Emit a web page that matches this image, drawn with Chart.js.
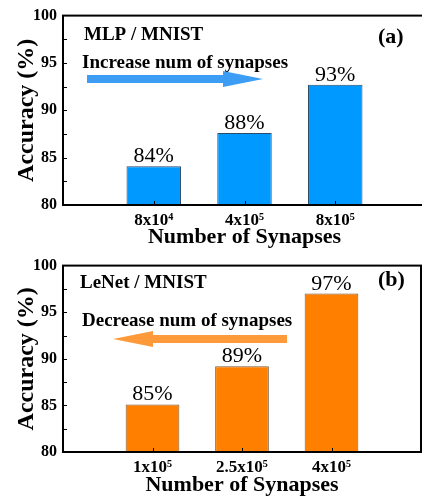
<!DOCTYPE html>
<html>
<head>
<meta charset="utf-8">
<script src="https://cdn.jsdelivr.net/npm/chart.js@4.4.1/dist/chart.umd.min.js"></script>
<style>
  html, body { margin: 0; padding: 0; background: #fff; overflow: hidden; width: 422px; height: 498px; }
  canvas { position: absolute; left: 0; }
  #panelA { top: 0; }
  #panelB { top: 250px; }
</style>
</head>
<body>
<canvas id="panelA" width="431" height="250"></canvas>
<canvas id="panelB" width="426" height="248"></canvas>
<script>
// Accuracy vs. number of synapses for two networks
const categoriesA = ['8x10\u2074', '4x10\u2075', '8x10\u2075'];
const accuracyA = [84.1, 87.6, 92.7];
const categoriesB = ['1x10\u2075', '2.5x10\u2075', '4x10\u2075'];
const accuracyB = [85.1, 89.2, 97.0];
const yTicks = [80, 85, 90, 95, 100];

const SERIF = '"Liberation Serif", "Times New Roman", serif';

// Frame, inner tick marks, value labels, panel captions and direction arrows
const panelDecor = {
  id: 'panelDecor',
  afterDatasetsDraw(chart, args, opts) {
    const { ctx, chartArea: a, scales: { x, y } } = chart;
    ctx.save();

    // frame
    ctx.strokeStyle = '#000';
    ctx.lineWidth = 2;
    ctx.strokeRect(a.left, a.top, a.right - a.left, a.bottom - a.top);

    // inner minor ticks on the y axis
    ctx.lineWidth = 1;
    ctx.beginPath();
    const step = (yTicks[1] - yTicks[0]) / 2;
    for (let v = y.min + step; v < y.max; v += step) {
      const py = Math.round(y.getPixelForValue(v)) + 0.5;
      ctx.moveTo(a.left + 1, py);
      ctx.lineTo(a.left + 4, py);
    }
    // inner ticks on the x axis at each bar
    const meta = chart.getDatasetMeta(0);
    meta.data.forEach((bar, i) => {
      if (chart.data.datasets[0].data[i] == null) return;
      const px = Math.round(bar.x) + 0.5;
      ctx.moveTo(px, a.bottom - 1);
      ctx.lineTo(px, a.bottom - 4);
    });
    ctx.stroke();

    // value labels above bars
    ctx.fillStyle = '#000';
    ctx.font = '22px ' + SERIF;
    ctx.textAlign = 'center';
    ctx.textBaseline = 'alphabetic';
    meta.data.forEach((bar, i) => {
      const v = chart.data.datasets[0].data[i];
      if (v == null) return;
      ctx.fillText(Math.round(v) + '%', bar.x, bar.y - 4);
    });

    // captions
    ctx.font = 'bold 19px ' + SERIF;
    ctx.textAlign = 'left';
    ctx.fillText(opts.title, a.left + opts.titleDx, a.top + opts.titleDy);
    ctx.fillText(opts.note, a.left + 19, a.top + opts.noteDy);
    ctx.font = 'bold 22px ' + SERIF;
    ctx.fillText(opts.tag, a.left + 315, a.top + opts.tagDy);

    // direction arrow
    const ar = opts.arrow;
    ctx.fillStyle = ar.color;
    ctx.beginPath();
    const d = ar.tipX > ar.tailX ? 1 : -1;
    const baseX = ar.tipX - d * ar.headLen;
    ctx.moveTo(ar.tailX, ar.cy - ar.shaft / 2);
    ctx.lineTo(baseX, ar.cy - ar.shaft / 2);
    ctx.lineTo(baseX, ar.cy - ar.head / 2);
    ctx.lineTo(ar.tipX, ar.cy);
    ctx.lineTo(baseX, ar.cy + ar.head / 2);
    ctx.lineTo(baseX, ar.cy + ar.shaft / 2);
    ctx.lineTo(ar.tailX, ar.cy + ar.shaft / 2);
    ctx.closePath();
    ctx.fill();

    ctx.restore();
  }
};

function makePanel(canvasId, categories, values, colors, decor, xAxisHeight, topPad) {
  return new Chart(document.getElementById(canvasId), {
    type: 'bar',
    data: {
      labels: ['', ...categories, ''],
      datasets: [{
        data: [null, ...values, null],
        backgroundColor: colors.fill,
        borderColor: colors.edge,
        borderWidth: 1,
        borderSkipped: 'bottom',
        categoryPercentage: 1,
        barPercentage: 0.6
      }]
    },
    options: {
      responsive: false,
      animation: false,
      devicePixelRatio: 1,
      layout: { padding: { top: topPad, left: 0, right: 0, bottom: 0 } },
      plugins: {
        legend: { display: false },
        tooltip: { enabled: false },
        panelDecor: decor
      },
      scales: {
        x: {
          type: 'category',
          offset: false,
          grid: { display: false, drawTicks: false },
          border: { display: false },
          ticks: {
            color: '#000',
            font: { family: SERIF, size: 17, weight: 'bold' },
            padding: 5,
            maxRotation: 0,
            autoSkip: false
          },
          title: {
            display: true,
            text: 'Number of Synapses',
            color: '#000',
            font: { family: SERIF, size: 22, weight: 'bold', lineHeight: 1 },
            padding: { top: 0, bottom: 2 }
          },
          afterFit(scale) { scale.height = xAxisHeight; }
        },
        y: {
          min: yTicks[0],
          max: yTicks[yTicks.length - 1],
          grid: { display: false, drawTicks: false },
          border: { display: false },
          ticks: {
            stepSize: yTicks[1] - yTicks[0],
            color: '#000',
            font: { family: SERIF, size: 16, weight: 'bold' },
            padding: 6
          },
          title: {
            display: true,
            text: 'Accuracy (%)',
            color: '#000',
            font: { family: SERIF, size: 24, weight: 'bold', lineHeight: 1 },
            padding: { top: 15, bottom: 0 }
          },
          afterFit(scale) { scale.width = 63; }
        }
      }
    },
    plugins: [panelDecor]
  });
}

makePanel('panelA', categoriesA, accuracyA,
  { fill: '#0099ff', edge: '#2a4a66' },
  {
    title: 'MLP / MNIST', titleDx: 21, titleDy: 24,
    note: 'Increase num of synapses', noteDy: 52,
    tag: '(a)', tagDy: 27,
    arrow: { color: '#3d9df5', tailX: 87, tipX: 263, cy: 79, shaft: 8, head: 16, headLen: 40 }
  }, 45, 14);

makePanel('panelB', categoriesB, accuracyB,
  { fill: '#ff8000', edge: '#7a5a3a' },
  {
    title: 'LeNet / MNIST', titleDx: 17, titleDy: 22,
    note: 'Decrease num of synapses', noteDy: 60,
    tag: '(b)', tagDy: 20,
    arrow: { color: '#ff9a3a', tailX: 287, tipX: 113, cy: 89, shaft: 8, head: 16, headLen: 40 }
  }, 46, 13);
</script>
</body>
</html>
